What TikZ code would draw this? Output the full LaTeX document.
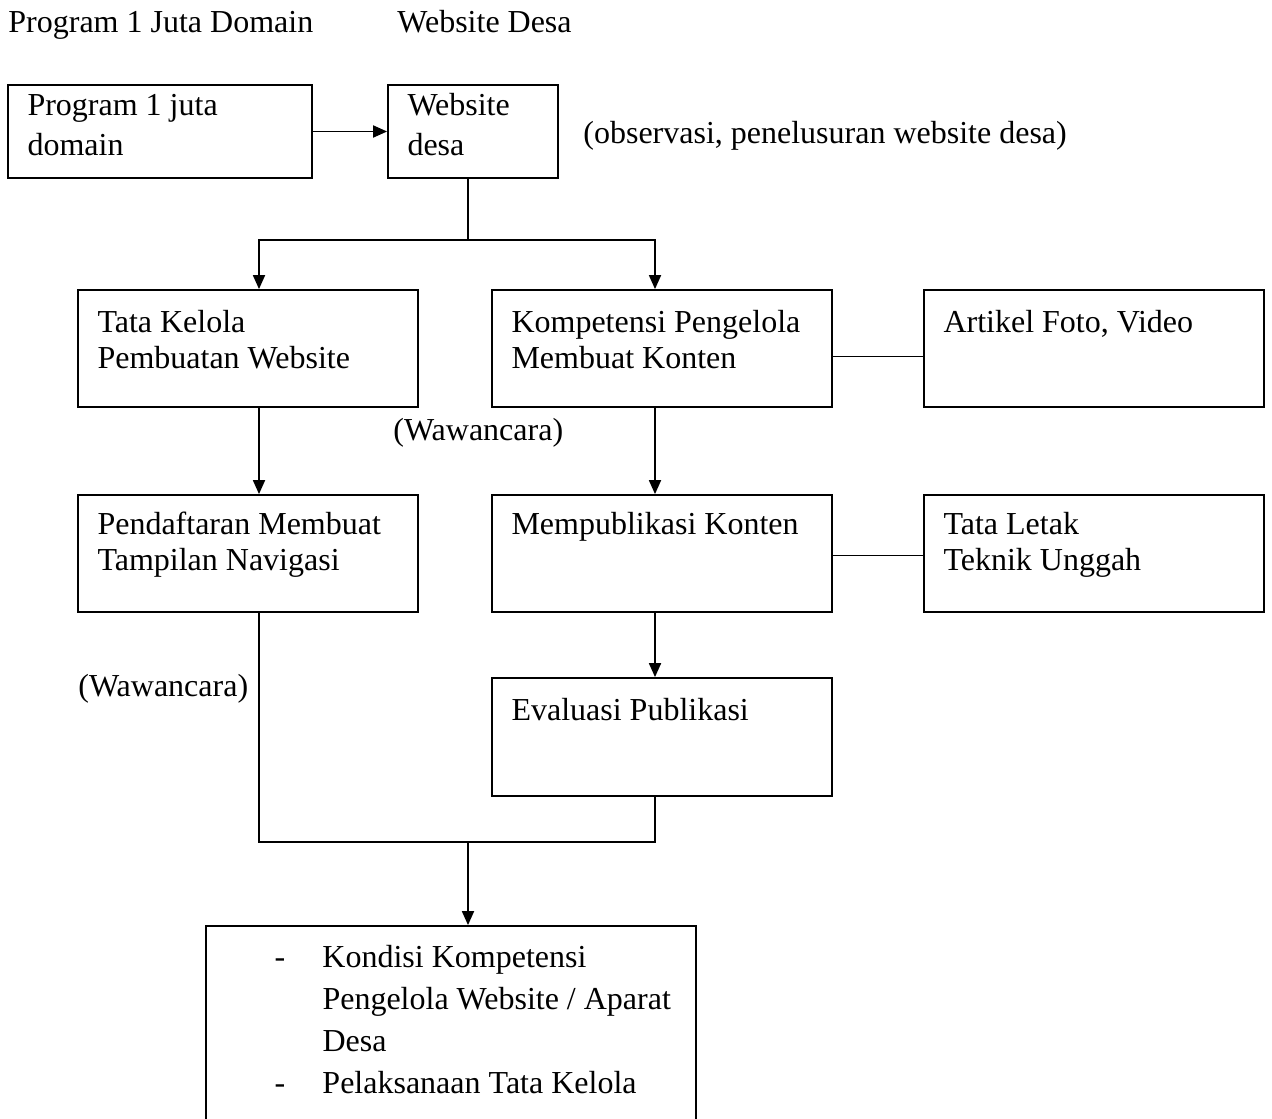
\documentclass[tikz,border=0pt]{standalone}
\usepackage{fontspec}
\setmainfont{Liberation Serif}
\usetikzlibrary{arrows.meta}
\tikzset{
  kotak/.style={draw,line width=0.9pt,inner sep=0pt,minimum width=170pt,minimum height=58.5pt},
  isi/.style={anchor=base west,inner sep=0pt,align=flush left,xshift=10pt,yshift=-21.5pt,
              font=\fontsize{16}{18}\selectfont},
  panah/.style={line width=0.9pt,-{Triangle[length=7pt,width=6pt]}},
  garis/.style={line width=0.9pt},
  teks/.style={anchor=base west,inner sep=0pt}
}

\begin{document}
\begin{tikzpicture}[x=0.5pt,y=-0.5pt]
      \useasboundingbox (0,0) rectangle (1272,1118);
      \fontsize{16}{17.5}\selectfont
      \node[teks] (judulA) at (8,33) {Program 1 Juta Domain};
      \node[teks] (judulB) at (397,33) {Website Desa};

      \node[kotak,minimum width=152pt,minimum height=46.5pt,
            label={[isi,text width=140pt,yshift=6pt,font=\fontsize{16}{20}\selectfont]north west:Program 1 juta\\domain}] (prog) at (160,131.5) {};
      \node[kotak,minimum width=85pt,minimum height=46.5pt,
            label={[isi,text width=75pt,yshift=6pt,font=\fontsize{16}{20}\selectfont]north west:Website\\desa}] (web) at (473,131.5) {};
      \node[teks] (obs) at (583,144) {(observasi, penelusuran website desa)};

      \node[kotak,label={[isi,text width=160pt]north west:Tata Kelola\\Pembuatan Website}] (tata) at (248,348.5) {};
      \node[kotak,label={[isi,text width=160pt]north west:Kompetensi Pengelola\\Membuat Konten}] (komp) at (662,348.5) {};
      \node[kotak,label={[isi,text width=160pt]north west:Artikel Foto, Video}] (artikel) at (1094,348.5) {};
      \node[teks] (wawA) at (393,440) {(Wawancara)};

      \node[kotak,label={[isi,text width=160pt,yshift=1.5pt]north west:Pendaftaran Membuat\\Tampilan Navigasi}] (pend) at (248,553.5) {};
      \node[kotak,label={[isi,text width=160pt,yshift=1.5pt]north west:Mempublikasi Konten}] (mpub) at (662,553.5) {};
      \node[kotak,label={[isi,text width=160pt,yshift=1.5pt]north west:Tata Letak\\Teknik Unggah}] (tletak) at (1094,553.5) {};

      \node[teks] (wawB) at (78,696) {(Wawancara)};
      \node[kotak,minimum height=59pt,label={[isi,text width=160pt]north west:Evaluasi Publikasi}] (eval) at (662,737) {};

      \node[kotak,minimum width=245pt,minimum height=200pt,
            label={[isi,xshift=24.5pt,yshift=0.5pt]north west:{\fontsize{16}{21}\selectfont
              \begin{tabular}[t]{@{}p{24pt}@{}l@{}}
                - & Kondisi Kompetensi\\
                  & Pengelola Website / Aparat\\
                  & Desa\\
                - & Pelaksanaan Tata Kelola
              \end{tabular}}}] (hasil) at (451,1126) {};

      \draw[panah] (prog) -- (web);
      \coordinate (cabang) at (468,240);
      \draw[garis] (web.south -| cabang) -- (cabang);
      \draw[panah] (cabang) -| ([xshift=5.5pt]tata.north);
      \draw[panah] (cabang) -| ([xshift=-3.5pt]komp.north);
      \draw[panah] ([xshift=5.5pt]tata.south) -- ([xshift=5.5pt]pend.north);
      \draw[panah] ([xshift=-3.5pt]komp.south) -- ([xshift=-3.5pt]mpub.north);
      \draw[garis] ([yshift=-4pt]komp.east) -- ([yshift=-4pt]artikel.west);
      \draw[garis] ([yshift=-1pt]mpub.east) -- ([yshift=-1pt]tletak.west);
      \draw[panah] ([xshift=-3.5pt]mpub.south) -- ([xshift=-3.5pt]eval.north);
      \coordinate (gabung) at (468,842);
      \draw[garis] ([xshift=5.5pt]pend.south) |- (gabung) -| ([xshift=-3.5pt]eval.south);
      \draw[panah] (gabung) -- (hasil.north -| gabung);
\end{tikzpicture}
\end{document}
